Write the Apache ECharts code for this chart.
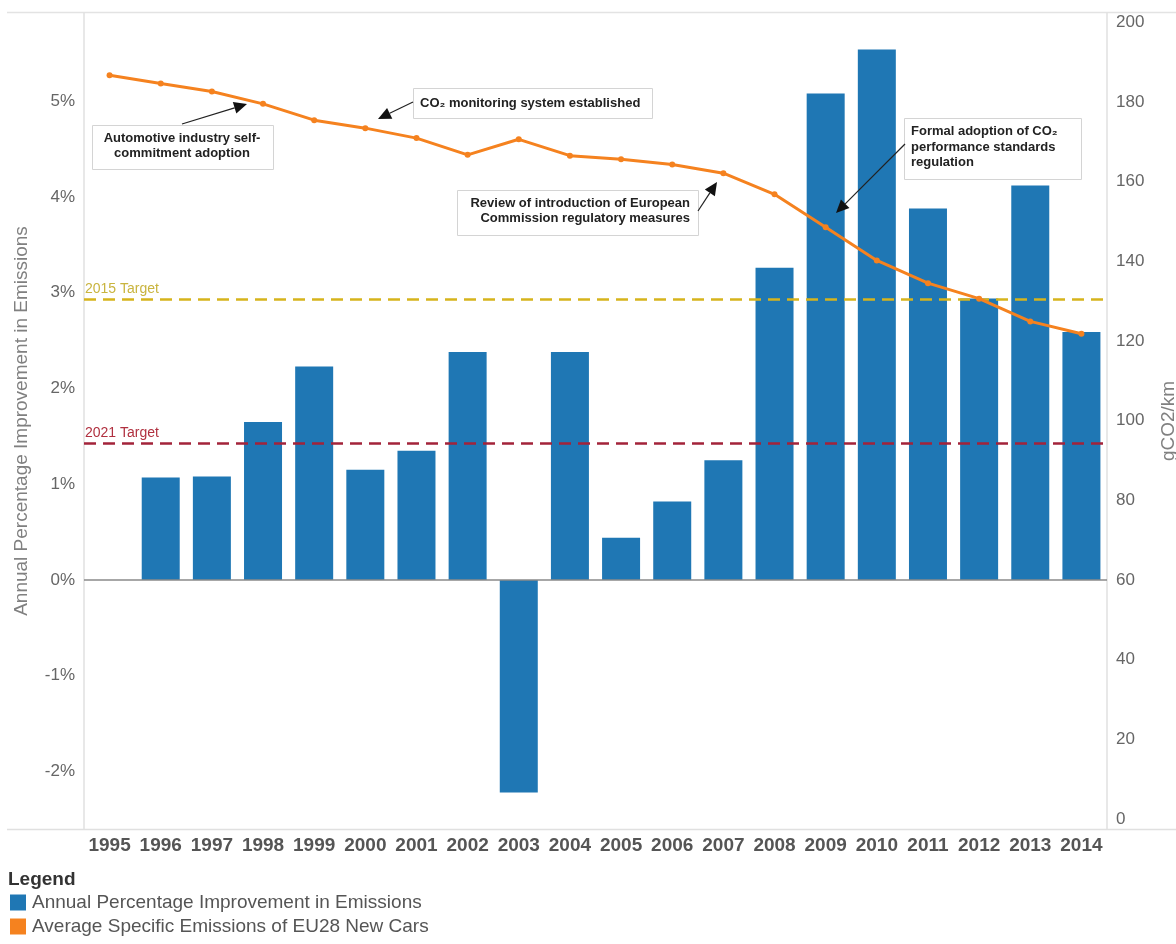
<!DOCTYPE html>
<html>
<head>
<meta charset="utf-8">
<script src="https://cdn.jsdelivr.net/npm/echarts@6/dist/echarts.min.js"></script>
<style>
html,body{margin:0;padding:0;background:#fff;overflow:hidden;}
#chart{width:1176px;height:944px;}
</style>
</head>
<body>
<div id="chart"></div>
<script>
// ---- data ----
const years = ['1995','1996','1997','1998','1999','2000','2001','2002','2003','2004','2005','2006','2007','2008','2009','2010','2011','2012','2013','2014'];
const improvementPct = [null, 1.07, 1.08, 1.65, 2.23, 1.15, 1.35, 2.38, -2.22, 2.38, 0.44, 0.82, 1.25, 3.26, 5.08, 5.54, 3.88, 2.94, 4.12, 2.59];
const avgEmissions = [186.7, 184.6, 182.6, 179.5, 175.4, 173.4, 170.9, 166.7, 170.6, 166.5, 165.6, 164.3, 162.1, 156.8, 148.5, 140.2, 134.5, 130.6, 124.9, 121.8];
const leftTicks = [-2, -1, 0, 1, 2, 3, 4, 5];
const rightTicks = [0, 20, 40, 60, 80, 100, 120, 140, 160, 180, 200];
const targetNames = ['2015 Target', '2021 Target'];
const targetValues = [130.5, 94.3];
const seriesNames = ['Annual Percentage Improvement in Emissions', 'Average Specific Emissions of EU28 New Cars'];
const annotationTexts = [
  ['Automotive industry self-', 'commitment adoption'],
  ['CO\u2082 monitoring system established'],
  ['Review of introduction of European', 'Commission regulatory measures'],
  ['Formal adoption of CO\u2082', 'performance standards', 'regulation']
];

// ---- layout / style ----
const FONT = '"Liberation Sans", Arial, sans-serif';
const targetColors = ['#d6b41c', '#a3233a'];
const targetLabelColors = ['#c9b43e', '#b0303f'];
const annLayout = [
  {box:[92,125,181,44], align:'center', tx:182, ty:146, tail:[182,124], tip:[247,104]},
  {box:[413,88,239,30], align:'left', tx:420, ty:103, tail:[413,102], tip:[378,119]},
  {box:[457,190,241,45], align:'right', tx:690, ty:211, tail:[698,211], tip:[717,182]},
  {box:[904,118,177,61], align:'left', tx:911, ty:147, tail:[905,144], tip:[836,213]}
];

function arrowGraphics(tail, tip) {
  const dx = tip[0]-tail[0], dy = tip[1]-tail[1];
  const len = Math.sqrt(dx*dx+dy*dy);
  const ux = dx/len, uy = dy/len;
  const hl = 13, hw = 6;
  const bx = tip[0]-ux*hl, by = tip[1]-uy*hl;
  return [
    {type:'line', shape:{x1:tail[0], y1:tail[1], x2:bx, y2:by}, style:{stroke:'#222', lineWidth:1.2}, z:100},
    {type:'polygon', shape:{points:[[tip[0],tip[1]],[bx-uy*hw, by+ux*hw],[bx+uy*hw, by-ux*hw]]}, style:{fill:'#111'}, z:100}
  ];
}

const graphics = [
  {type:'line', shape:{x1:7, y1:12.5, x2:1176, y2:12.5}, style:{stroke:'#e3e3e3', lineWidth:1.5}},
  {type:'line', shape:{x1:7, y1:829.5, x2:1176, y2:829.5}, style:{stroke:'#e0e0e0', lineWidth:1.5}}
];
annLayout.forEach((a, i) => {
  graphics.push({type:'rect', shape:{x:a.box[0]+0.5, y:a.box[1]+0.5, width:a.box[2], height:a.box[3]},
    style:{fill:'#fff', stroke:'#d4d4d4', lineWidth:1}, z:90});
  graphics.push({type:'text', x:a.tx, y:a.ty, z:95,
    style:{text:annotationTexts[i].join('\n'), font:'bold 13px ' + FONT, fill:'#222',
      align:a.align, verticalAlign:'middle', lineHeight:15.5}});
  arrowGraphics(a.tail, a.tip).forEach(g => graphics.push(g));
});
graphics.push({type:'text', x:8, y:880, style:{text:'Legend', font:'bold 19px ' + FONT, fill:'#333', verticalAlign:'middle'}});

const chart = echarts.init(document.getElementById('chart'), null, {renderer:'canvas'});
chart.setOption({
  animation:false,
  textStyle:{fontFamily:FONT},
  grid:{left:84, right:69, top:13, bottom:115, containLabel:false, outerBoundsMode:'none'},
  legend:{
    orient:'vertical', left:10, top:893, height:60, padding:0,
    icon:'rect', itemWidth:16, itemHeight:16, itemGap:5,
    selectedMode:false,
    textStyle:{fontSize:19, color:'#555', fontFamily:FONT, padding:[0,0,0,1]},
    data:seriesNames
  },
  xAxis:{
    type:'category', data:years,
    axisLine:{show:false}, axisTick:{show:false}, splitLine:{show:false},
    axisLabel:{fontSize:19, fontWeight:'bold', color:'#555', margin:7, fontFamily:FONT, interval:0}
  },
  yAxis:[
    {
      type:'value', min:-2.6, max:5.92, position:'left',
      name:'Annual Percentage Improvement in Emissions', nameLocation:'middle', nameGap:53, nameRotate:90,
      nameTextStyle:{fontSize:19, color:'#808080', fontFamily:FONT},
      axisLine:{show:true, lineStyle:{color:'#e0e0e0', width:1.5}},
      axisTick:{show:false}, splitLine:{show:false},
      axisLabel:{customValues:leftTicks, formatter:v => v + '%', fontSize:17, color:'#666', margin:9, fontFamily:FONT}
    },
    {
      type:'value', min:-2.5, max:202.3, position:'right',
      name:'gCO2/km', nameLocation:'middle', nameGap:52, nameRotate:90,
      nameTextStyle:{fontSize:19, color:'#808080', fontFamily:FONT},
      axisLine:{show:true, lineStyle:{color:'#e0e0e0', width:1.5}},
      axisTick:{show:false}, splitLine:{show:false},
      axisLabel:{customValues:rightTicks, fontSize:17, color:'#666', margin:9, fontFamily:FONT}
    }
  ],
  series:[
    {
      name:seriesNames[0], type:'bar', yAxisIndex:0, data:improvementPct, barWidth:38,
      itemStyle:{color:'#1f77b4'},
      markLine:{silent:true, symbol:'none', label:{show:false},
        lineStyle:{color:'#8a8a8a', type:'solid', width:1.5},
        data:[{yAxis:0}]}
    },
    {
      name:seriesNames[1], type:'line', yAxisIndex:1, data:avgEmissions,
      color:'#f5821f', lineStyle:{width:3, color:'#f5821f'},
      symbol:'circle', symbolSize:6, itemStyle:{color:'#f5821f'}, z:5,
      markLine:{silent:true, symbol:'none',
        data:targetValues.map((v, i) => ({
          name:targetNames[i], yAxis:v,
          lineStyle:{color:targetColors[i], type:[12,7], width:2.5},
          label:{show:true, position:'insideStartTop', formatter:'{b}', color:targetLabelColors[i], fontSize:14, distance:[1,3], fontFamily:FONT}
        }))
      }
    }
  ],
  graphic:graphics
});
</script>
</body>
</html>
